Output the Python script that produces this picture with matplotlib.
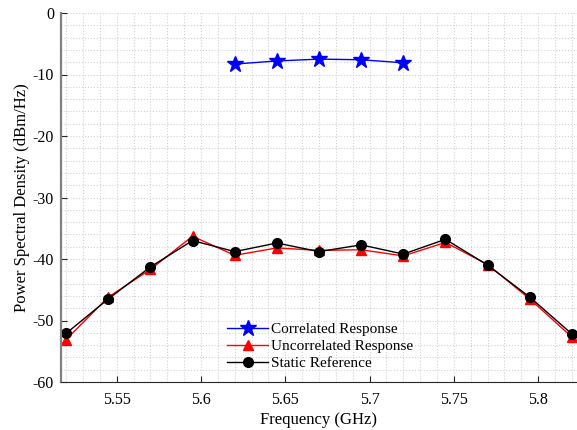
import matplotlib.pyplot as plt
from matplotlib.ticker import MultipleLocator

# data
freq_corr = [5.62, 5.645, 5.67, 5.695, 5.72]
psd_corr = [-8.3, -7.8, -7.5, -7.6, -8.1]

freq = [5.52, 5.545, 5.57, 5.595, 5.62, 5.645, 5.67, 5.695, 5.72, 5.745, 5.77, 5.795, 5.82]
psd_uncorr = [-53.1, -46.2, -41.7, -36.3, -39.4, -38.2, -38.6, -38.5, -39.5, -37.3, -40.9, -46.5, -52.7]
psd_static = [-52.1, -46.5, -41.3, -37.0, -38.8, -37.4, -38.8, -37.7, -39.2, -36.8, -41.0, -46.2, -52.2]

plt.rcParams['font.family'] = ['Liberation Serif', 'DejaVu Serif']
plt.rcParams['axes.unicode_minus'] = False

fig = plt.figure(figsize=(5.77, 4.30), dpi=100)
ax = fig.add_axes([61 / 577, 48 / 430, 1 - 61 / 577, (382 - 13) / 430])

ax.plot(freq_corr, psd_corr, color='blue', lw=1, marker='*', ms=12, label='Correlated Response')
ax.plot(freq, psd_uncorr, color='red', lw=1, marker='^', ms=7, label='Uncorrelated Response')
ax.plot(freq, psd_static, color='black', lw=1, marker='o', ms=7, label='Static Reference')

ax.set_xlim(5.517, 5.823)
ax.set_ylim(-60, 0)
ax.xaxis.set_minor_locator(MultipleLocator(0.01))
ax.yaxis.set_major_locator(MultipleLocator(10))
ax.yaxis.set_minor_locator(MultipleLocator(2))
ax.set_xticks([5.55, 5.6, 5.65, 5.7, 5.75, 5.8])
ax.set_xticklabels(['5.55', '5.6', '5.65', '5.7', '5.75', '5.8'])

ax.grid(True, which='both', color='#d2d2d2', linestyle=':', linewidth=0.8)
ax.set_axisbelow(True)
ax.tick_params(which='both', direction='in', labelsize=11.5)
ax.tick_params(which='minor', length=0)
ax.tick_params(which='major', length=4, color='#262626')
ax.tick_params(axis='x', pad=7)
ax.tick_params(axis='y', pad=5)
for s in ['top', 'right']:
    ax.spines[s].set_visible(False)
ax.spines['left'].set_color('#808080')
ax.spines['left'].set_linewidth(1.6)
ax.spines['bottom'].set_color('#262626')

ax.set_xlabel('Frequency (GHz)', fontsize=12, labelpad=3)
ax.set_ylabel('Power Spectral Density (dBm/Hz)', fontsize=12, labelpad=2)

ax.legend(loc='lower left', bbox_to_anchor=(0.31, 0.015), frameon=False, fontsize=11,
          handlelength=2.7, handletextpad=0.2, labelspacing=0.22, borderaxespad=0)

fig.savefig('out.png', dpi=100)
